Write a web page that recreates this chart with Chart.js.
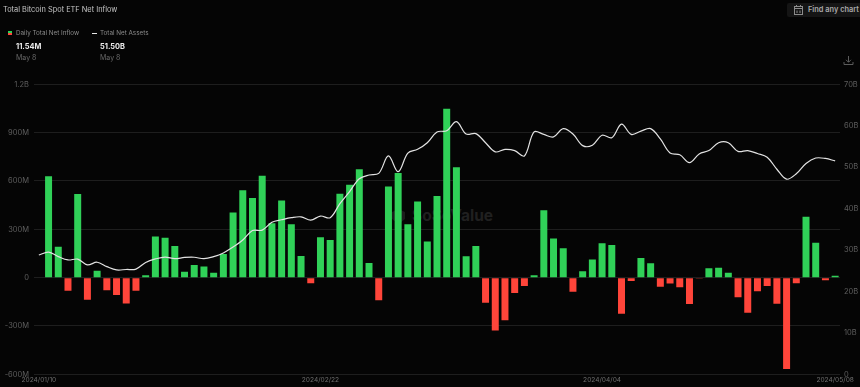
<!DOCTYPE html>
<html>
<head>
<meta charset="utf-8">
<title>Total Bitcoin Spot ETF Net Inflow</title>
<script src="https://cdn.jsdelivr.net/npm/chart.js@4/dist/chart.umd.min.js"></script>
<style>
    html, body { margin: 0; padding: 0; background: #050505; }
    body { width: 860px; height: 387px; overflow: hidden; position: relative; font-family: Inter, sans-serif; }
    #chartWrap { position: absolute; left: 0; top: 0; width: 860px; height: 387px; }
    .label { position: absolute; white-space: nowrap; line-height: 10px; }
    .title { left: 3px; top: 5px; font-size: 7.4px; color: #c4c4c4; }
    .legend { top: 28px; font-size: 6.3px; color: #8c8c8c; }
    .big { top: 42px; font-size: 7.4px; font-weight: 700; color: #ececec; }
    .sub { top: 53px; font-size: 7px; color: #686868; }
    .swatch { position: absolute; left: 8px; top: 31px; width: 4px; height: 4px; background: linear-gradient(#30d158 50%, #ff453a 50%); }
    .dash { position: absolute; left: 92px; top: 33px; width: 5px; height: 1px; background: #e6e6e6; }
    .button { position: absolute; left: 787px; top: 3px; width: 73px; height: 14px; background: #151515; border-radius: 2px 0 0 2px; }
    .button span { position: absolute; left: 21px; top: 2px; line-height: 10px; font-size: 7.4px; font-weight: 600; color: #a8a8a8; white-space: nowrap; }
    .watermark { left: 412px; top: 207px; line-height: 18px; font-size: 15.5px; font-weight: 700; color: #202020; }
    svg { position: absolute; }
</style>
</head>
<body>
<svg style="left:392px;top:209px" width="13" height="15" viewBox="0 0 13 15">
    <path d="M6.5 0L13 3V10L6.5 15L0 10V3Z" fill="#1c1c1c"></path>
</svg>
<div class="label watermark">SoSoValue</div>
<div id="chartWrap"><canvas id="inflowChart" width="860" height="387"></canvas></div>

<div class="label title">Total Bitcoin Spot ETF Net Inflow</div>
<div class="swatch"></div>
<div class="label legend" style="left:16px">Daily Total Net Inflow</div>
<div class="dash"></div>
<div class="label legend" style="left:100px">Total Net Assets</div>
<div class="label big" style="left:16px">11.54M</div>
<div class="label big" style="left:100px">51.50B</div>
<div class="label sub" style="left:16px">May 8</div>
<div class="label sub" style="left:100px">May 8</div>

<div class="button"><span>Find any chart</span></div>
<svg style="left:794px;top:5px" width="9" height="10" viewBox="0 0 9 10" fill="none" stroke="#8c8c8c" stroke-width="1">
    <rect x="0.5" y="1.5" width="8" height="8"></rect>
    <path d="M0.5 3.5H8.5M2.5 0V2M6.5 0V2M3 5.5V8M6 5.5V8"></path>
</svg>
<svg style="left:843px;top:55px" width="11" height="11" viewBox="0 0 11 11" fill="none" stroke="#5c5c5c" stroke-width="1">
    <path d="M5.5 1V7M3 4.8L5.5 7.3L8 4.8M1 7V9.5H10V7"></path>
</svg>

<script>
// trading days, the first one has no bar
const dates = [
    '2024/01/10', '2024/01/11', '2024/01/12', '2024/01/16', '2024/01/17', '2024/01/18', '2024/01/19',
    '2024/01/22', '2024/01/23', '2024/01/24', '2024/01/25', '2024/01/26', '2024/01/29', '2024/01/30', '2024/01/31',
    '2024/02/01', '2024/02/02', '2024/02/05', '2024/02/06', '2024/02/07', '2024/02/08', '2024/02/09',
    '2024/02/12', '2024/02/13', '2024/02/14', '2024/02/15', '2024/02/16', '2024/02/20', '2024/02/21', '2024/02/22',
    '2024/02/23', '2024/02/26', '2024/02/27', '2024/02/28', '2024/02/29', '2024/03/01',
    '2024/03/04', '2024/03/05', '2024/03/06', '2024/03/07', '2024/03/08',
    '2024/03/11', '2024/03/12', '2024/03/13', '2024/03/14', '2024/03/15',
    '2024/03/18', '2024/03/19', '2024/03/20', '2024/03/21', '2024/03/22',
    '2024/03/25', '2024/03/26', '2024/03/27', '2024/03/28',
    '2024/04/01', '2024/04/02', '2024/04/03', '2024/04/04', '2024/04/05',
    '2024/04/08', '2024/04/09', '2024/04/10', '2024/04/11', '2024/04/12',
    '2024/04/15', '2024/04/16', '2024/04/17', '2024/04/18', '2024/04/19',
    '2024/04/22', '2024/04/23', '2024/04/24', '2024/04/25', '2024/04/26',
    '2024/04/29', '2024/04/30', '2024/05/01', '2024/05/02', '2024/05/03',
    '2024/05/06', '2024/05/07', '2024/05/08'
];

// daily net inflow, millions of USD
const netInflow = [
    null, 629, 191, -81, 519, -137, 42, -79, -108, -160, -81, 15, 255, 247, 197,
    37, 79, 69, 31, 147, 405, 542, 494, 633, 338, 479, 332, 135, -35, 251,
    233, 521, 577, 673, 91, -141, 565, 650, 332, 473, 224, 507, 1048, 685, 133,
    197, -156, -328, -264, -95, -52, 15, 419, 243, 183, -87, 39, 112, 214, 203,
    -224, -21, 122, 89, -56, -37, -60, -164, -6, 58, 62, 31, -122, -218, -85,
    -52, -162, -567, -35, 378, 216, -17, 11.54
];

// total net assets, billions of USD
const netAssets = [
    28.8, 29.5, 28.4, 27.6, 27.8, 26.4, 27.05, 26.0, 25.2, 25.3, 25.4, 27.0, 27.85, 28.3, 27.9,
    28.2, 28.25, 27.9, 28.4, 29.3, 30.7, 32.4, 34.7, 34.8, 36.7, 37.3, 37.8, 38.0, 37.2, 38.2,
    37.8, 41.2, 44.1, 47.2, 48.1, 48.5, 52.7, 48.9, 53.4, 54.3, 55.9, 58.5, 58.8, 61.0, 58.0,
    58.1, 55.9, 53.7, 54.3, 54.0, 52.7, 58.5, 57.9, 57.3, 59.3, 58.0, 55.2, 55.3, 57.7, 57.1,
    60.4, 57.9, 58.7, 59.3, 56.8, 53.4, 53.0, 51.1, 53.2, 54.0, 55.9, 55.9, 53.8, 54.0, 53.3,
    52.4, 49.5, 47.1, 48.4, 50.9, 52.2, 52.1, 51.5
];

const xTickLabels = ['2024/01/10', '2024/02/22', '2024/04/04', '2024/05/08'];

const GREEN = '#30d158';
const RED = '#ff453a';
const tickColor = '#5e5e5e';
const tickFont = { family: 'Inter', size: 7.5 };

function formatInflowTick(value) {
    if (value === 0) return '0';
    if (Math.abs(value) >= 1000) return (value / 1000) + 'B';
    return value + 'M';
}

new Chart(document.getElementById('inflowChart').getContext('2d'), {
    data: {
        labels: dates,
        datasets: [
            {
                type: 'line',
                label: 'Total Net Assets',
                data: netAssets,
                yAxisID: 'yAssets',
                borderColor: '#e2e2e2',
                borderWidth: 1.2,
                pointRadius: 0,
                tension: 0.35,
                order: 1
            },
            {
                type: 'bar',
                label: 'Daily Total Net Inflow',
                data: netInflow,
                yAxisID: 'yInflow',
                backgroundColor: netInflow.map(v => v < 0 ? RED : GREEN),
                barPercentage: 0.72,
                categoryPercentage: 1,
                order: 2
            }
        ]
    },
    options: {
        responsive: false,
        animation: false,
        layout: { padding: { top: 84.3, left: 0, right: 0, bottom: 0 } },
        plugins: { legend: { display: false }, tooltip: { enabled: false } },
        scales: {
            x: {
                offset: true,
                grid: { display: false, drawTicks: false },
                border: { display: false },
                afterFit: scale => { scale.height = 12.7; },
                ticks: {
                    color: '#6e6e6e',
                    font: { family: 'Inter', size: 6.6 },
                    padding: 2,
                    autoSkip: false,
                    maxRotation: 0,
                    callback: function(value) {
                        const label = this.getLabelForValue(value);
                        return xTickLabels.includes(label) ? label : '';
                    }
                }
            },
            yInflow: {
                position: 'left',
                min: -600,
                max: 1200,
                grid: { color: '#1e1e1e', lineWidth: 1, drawTicks: false },
                border: { display: false },
                afterFit: scale => { scale.width = 34; },
                ticks: {
                    stepSize: 300,
                    color: tickColor,
                    font: tickFont,
                    padding: 5,
                    callback: formatInflowTick
                }
            },
            yAssets: {
                position: 'right',
                min: 0,
                max: 70,
                grid: { display: false, drawTicks: false },
                border: { display: false },
                afterFit: scale => { scale.width = 20; },
                ticks: {
                    stepSize: 10,
                    color: tickColor,
                    font: tickFont,
                    padding: 4,
                    callback: value => value === 0 ? '0' : value + 'B'
                }
            }
        }
    }
});
</script>
</body>
</html>
